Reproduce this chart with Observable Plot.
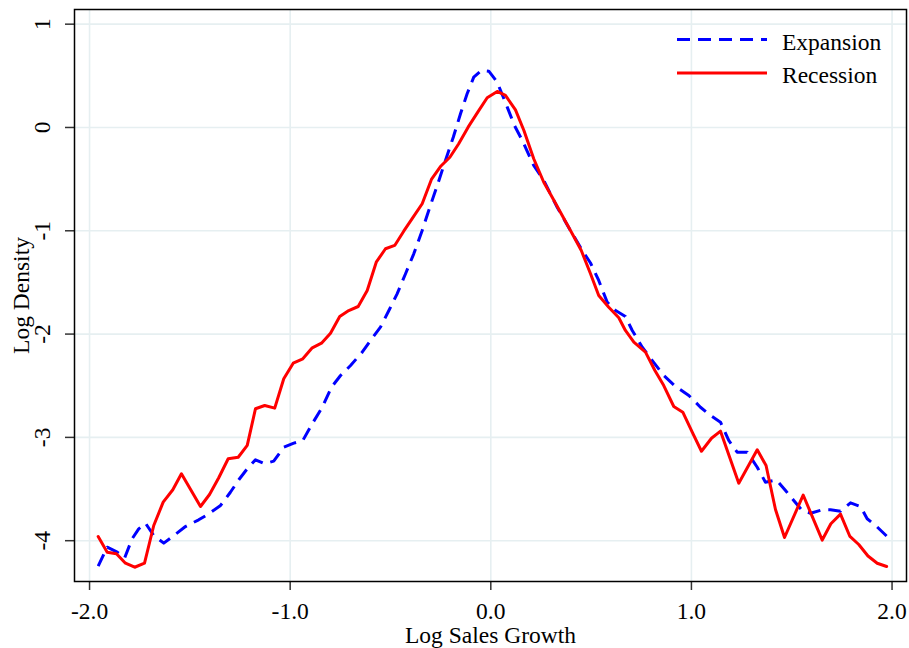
<!DOCTYPE html>
<html>
<head>
<meta charset="utf-8">
<script src="https://cdn.jsdelivr.net/npm/d3@7"></script>
<script src="https://cdn.jsdelivr.net/npm/@observablehq/plot@0.6"></script>
<style>
  html, body { margin: 0; padding: 0; background: #fff; }
  #chart { position: relative; width: 909px; height: 648px; }
  #legend { position: absolute; left: 670px; top: 0; }
</style>
</head>
<body>
<div id="chart"></div>
<script>
// Axis ticks
const xTicks = [-2, -1, 0, 1, 2];
const yTicks = [1, 0, -1, -2, -3, -4];

// Log density of log sales growth, expansion periods
const expansionX = [-1.957, -1.912, -1.862, -1.825, -1.788, -1.755, -1.721, -1.680, -1.630, -1.580,
  -1.522, -1.456, -1.406, -1.347, -1.298, -1.256, -1.214, -1.173, -1.127, -1.082,
  -1.032, -0.982, -0.937, -0.890, -0.840, -0.794, -0.749, -0.699, -0.641, -0.596,
  -0.550, -0.508, -0.467, -0.425, -0.384, -0.342, -0.304, -0.264, -0.226, -0.187,
  -0.151, -0.118, -0.085, -0.046, -0.010, 0.032, 0.082, 0.118, 0.157, 0.214,
  0.264, 0.331, 0.397, 0.456, 0.497, 0.538, 0.580, 0.622, 0.671, 0.705,
  0.755, 0.805, 0.862, 0.921, 0.987, 1.045, 1.095, 1.145, 1.186, 1.228,
  1.278, 1.328, 1.369, 1.424, 1.469, 1.510, 1.552, 1.594, 1.652, 1.693,
  1.743, 1.793, 1.843, 1.876, 1.918, 1.973];
const expansionY = [-4.247, -4.063, -4.111, -4.166, -3.982, -3.885, -3.831, -3.950, -4.024, -3.950,
  -3.863, -3.798, -3.740, -3.659, -3.531, -3.410, -3.304, -3.217, -3.256, -3.230,
  -3.095, -3.056, -3.030, -2.868, -2.708, -2.514, -2.401, -2.304, -2.175, -2.052,
  -1.933, -1.772, -1.610, -1.416, -1.223, -0.997, -0.772, -0.545, -0.319, -0.094,
  0.133, 0.326, 0.487, 0.552, 0.545, 0.439, 0.197, 0.019, -0.126, -0.368,
  -0.513, -0.772, -0.997, -1.191, -1.312, -1.481, -1.691, -1.772, -1.830, -1.965,
  -2.127, -2.256, -2.401, -2.507, -2.594, -2.708, -2.788, -2.853, -3.030, -3.143,
  -3.143, -3.289, -3.434, -3.412, -3.514, -3.611, -3.708, -3.734, -3.701, -3.701,
  -3.714, -3.633, -3.669, -3.788, -3.853, -3.955];

// Log density of log sales growth, recession periods
const recessionX = [-1.957, -1.912, -1.866, -1.821, -1.775, -1.726, -1.680, -1.633, -1.585, -1.542,
  -1.447, -1.402, -1.356, -1.309, -1.259, -1.214, -1.173, -1.127, -1.077, -1.032,
  -0.985, -0.937, -0.890, -0.844, -0.799, -0.753, -0.708, -0.661, -0.616, -0.571,
  -0.525, -0.479, -0.434, -0.387, -0.342, -0.296, -0.251, -0.204, -0.160, -0.113,
  -0.065, -0.018, 0.032, 0.073, 0.123, 0.165, 0.214, 0.264, 0.306, 0.356,
  0.406, 0.451, 0.497, 0.538, 0.588, 0.638, 0.671, 0.713, 0.771, 0.818,
  0.862, 0.912, 0.957, 1.004, 1.050, 1.100, 1.145, 1.236, 1.328, 1.372,
  1.419, 1.464, 1.557, 1.652, 1.695, 1.743, 1.790, 1.834, 1.880, 1.926, 1.973];
const recessionY = [-3.959, -4.111, -4.127, -4.218, -4.257, -4.218, -3.853, -3.627, -3.507, -3.352,
  -3.669, -3.553, -3.391, -3.207, -3.192, -3.078, -2.723, -2.691, -2.717, -2.433,
  -2.282, -2.239, -2.133, -2.088, -1.991, -1.830, -1.772, -1.733, -1.578, -1.304,
  -1.174, -1.142, -1.004, -0.868, -0.738, -0.503, -0.378, -0.288, -0.158, 0.003,
  0.148, 0.288, 0.349, 0.310, 0.171, -0.029, -0.303, -0.530, -0.675, -0.852,
  -1.029, -1.191, -1.416, -1.626, -1.740, -1.842, -1.965, -2.078, -2.175, -2.352,
  -2.498, -2.701, -2.756, -2.950, -3.134, -3.008, -2.940, -3.443, -3.120, -3.272,
  -3.698, -3.969, -3.558, -3.994, -3.836, -3.743, -3.959, -4.037, -4.148, -4.218, -4.250];

const seriesNames = ["Expansion", "Recession"];
const seriesColors = ["#0000ff", "#ff0000"];
const seriesDash = ["13,8", null];

const expansion = expansionX.map((x, i) => ({x, y: expansionY[i]}));
const recession = recessionX.map((x, i) => ({x, y: recessionY[i]}));

const serif = "'Liberation Serif', 'Times New Roman', serif";
const gridStyle = {stroke: "#e6eff1", strokeOpacity: 1, strokeWidth: 1.6};

const chart = Plot.plot({
  width: 909,
  height: 648,
  marginLeft: 74,
  marginRight: 3,
  marginTop: 9,
  marginBottom: 67,
  x: {domain: [-2.075, 2.072]},
  y: {domain: [-4.395, 1.142]},
  style: {fontFamily: serif, fontSize: "23.5px", background: "#fff", color: "#000"},
  marks: [
    Plot.gridX(xTicks, gridStyle),
    Plot.gridY(yTicks, gridStyle),
    Plot.axisX(xTicks, {tickSize: 9, tickFormat: () => "", label: null, stroke: "#333", strokeWidth: 1.5}),
    Plot.axisY(yTicks, {tickSize: 9, tickFormat: () => "", label: null, stroke: "#333", strokeWidth: 1.5}),
    Plot.text(xTicks, {x: d => d, frameAnchor: "bottom", lineAnchor: "bottom", textAnchor: "middle", dy: 37, text: d => d.toFixed(1), fill: "#000"}),
    Plot.text(yTicks, {y: d => d, frameAnchor: "left", lineAnchor: "bottom", textAnchor: "middle", rotate: -90, dx: -25, text: d => String(d), fill: "#000"}),
    Plot.text(["Log Sales Growth"], {frameAnchor: "bottom", lineAnchor: "bottom", textAnchor: "middle", dy: 61, text: d => d, fill: "#000"}),
    Plot.text(["Log Density"], {frameAnchor: "left", lineAnchor: "bottom", textAnchor: "middle", rotate: -90, dx: -46, text: d => d, fill: "#000"}),
    Plot.line(expansion, {x: "x", y: "y", stroke: seriesColors[0], strokeWidth: 3, strokeDasharray: seriesDash[0], strokeLinecap: "butt"}),
    Plot.line(recession, {x: "x", y: "y", stroke: seriesColors[1], strokeWidth: 3}),
    Plot.frame({stroke: "#000", strokeWidth: 1.5})
  ]
});

const host = document.getElementById("chart");
host.appendChild(chart);

// Legend in the upper right corner of the plot area
const legend = d3.select(host).append("svg")
  .attr("id", "legend")
  .attr("width", 235)
  .attr("height", 95);
seriesNames.forEach((name, i) => {
  const lineY = 39.5 + i * 33.4;
  legend.append("line")
    .attr("x1", 7).attr("x2", 97)
    .attr("y1", lineY).attr("y2", lineY)
    .attr("stroke", seriesColors[i])
    .attr("stroke-width", 3)
    .attr("stroke-dasharray", seriesDash[i]);
  legend.append("text")
    .attr("x", 112)
    .attr("y", 50 + i * 32.5)
    .attr("font-family", serif)
    .attr("font-size", "23.5px")
    .attr("fill", "#000")
    .text(name);
});
</script>
</body>
</html>
